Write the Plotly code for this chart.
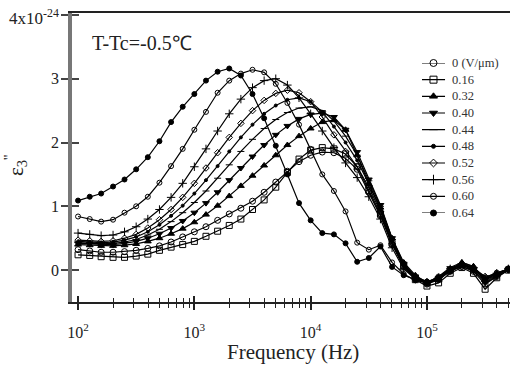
import plotly.graph_objects as go

freq = [100, 126, 158, 200, 251, 316, 398, 501, 631, 794,
        1000, 1259, 1585, 1995, 2512, 3162, 3981, 5012, 6310, 7943,
        10000, 12589, 15849, 19953, 25119, 31623, 39811, 50119, 63096, 79433,
        100000, 125893, 158489, 199526, 251189, 316228, 398107, 501187]

s000 = [0.32, 0.30, 0.28, 0.28, 0.29, 0.31, 0.34, 0.38, 0.44, 0.52,
        0.60, 0.68, 0.78, 0.88, 0.97, 1.08, 1.22, 1.38, 1.55, 1.70,
        1.80, 1.85, 1.84, 1.75, 1.58, 1.22, 0.85, 0.40, 0.06, -0.12,
        -0.22, -0.15, -0.02, 0.06, -0.02, -0.22, -0.10, 0.02]
s016 = [0.24, 0.23, 0.21, 0.20, 0.20, 0.22, 0.25, 0.31, 0.36, 0.40,
        0.45, 0.53, 0.61, 0.70, 0.80, 0.95, 1.10, 1.30, 1.53, 1.74,
        1.88, 1.92, 1.90, 1.82, 1.62, 1.25, 0.88, 0.42, 0.05, -0.15,
        -0.25, -0.20, -0.05, 0.04, -0.05, -0.30, -0.12, 0.00]
s032 = [0.40, 0.39, 0.38, 0.38, 0.39, 0.41, 0.45, 0.50, 0.57, 0.65,
        0.75, 0.87, 1.01, 1.16, 1.32, 1.48, 1.64, 1.80, 1.96, 2.10,
        2.22, 2.32, 2.35, 2.20, 1.80, 1.35, 0.98, 0.50, 0.12, -0.08,
        -0.20, -0.16, 0.00, 0.12, 0.06, -0.15, -0.08, 0.01]
s040 = [0.42, 0.41, 0.40, 0.40, 0.42, 0.45, 0.50, 0.57, 0.66, 0.77,
        0.90, 1.05, 1.22, 1.41, 1.60, 1.78, 1.96, 2.12, 2.26, 2.37,
        2.44, 2.46, 2.40, 2.20, 1.85, 1.42, 1.02, 0.50, 0.10, -0.10,
        -0.20, -0.12, 0.03, 0.08, 0.00, -0.20, -0.10, 0.00]
s044 = [0.43, 0.42, 0.41, 0.42, 0.44, 0.48, 0.55, 0.64, 0.76, 0.90,
        1.06, 1.24, 1.44, 1.65, 1.86, 2.05, 2.22, 2.36, 2.47, 2.54,
        2.56, 2.50, 2.34, 2.10, 1.80, 1.40, 1.00, 0.48, 0.08, -0.10,
        -0.18, -0.15, 0.02, 0.10, 0.03, -0.18, -0.08, 0.01]
s048 = [0.45, 0.44, 0.43, 0.44, 0.47, 0.52, 0.60, 0.71, 0.85, 1.01,
        1.20, 1.41, 1.63, 1.86, 2.08, 2.28, 2.45, 2.58, 2.67, 2.70,
        2.64, 2.48, 2.25, 2.00, 1.72, 1.35, 0.95, 0.45, 0.06, -0.12,
        -0.20, -0.10, 0.04, 0.12, 0.05, -0.14, -0.05, 0.02]
s052 = [0.47, 0.46, 0.45, 0.46, 0.50, 0.56, 0.66, 0.79, 0.95, 1.14,
        1.36, 1.60, 1.84, 2.08, 2.30, 2.50, 2.66, 2.77, 2.82, 2.78,
        2.64, 2.40, 2.12, 1.86, 1.62, 1.30, 0.92, 0.42, 0.05, -0.12,
        -0.18, -0.14, 0.00, 0.09, 0.03, -0.10, -0.06, 0.02]
s056 = [0.58, 0.56, 0.54, 0.55, 0.60, 0.68, 0.80, 0.95, 1.14, 1.36,
        1.62, 1.90, 2.18, 2.45, 2.68, 2.86, 2.97, 3.00, 2.90, 2.70,
        2.45, 2.18, 1.92, 1.68, 1.45, 1.15, 0.80, 0.35, 0.02, -0.14,
        -0.20, -0.12, 0.02, 0.10, 0.04, -0.12, -0.05, 0.02]
s060 = [0.84, 0.80, 0.76, 0.79, 0.90, 1.00, 1.15, 1.37, 1.63, 1.90,
        2.20, 2.48, 2.78, 2.97, 3.08, 3.14, 3.10, 2.92, 2.62, 2.28,
        1.90, 1.50, 1.24, 0.92, 0.43, 0.32, 0.39, 0.12, -0.06, -0.16,
        -0.20, -0.10, 0.00, 0.05, 0.00, -0.12, -0.04, 0.01]
s064 = [1.09, 1.15, 1.20, 1.31, 1.42, 1.58, 1.77, 2.02, 2.32, 2.56,
        2.76, 2.97, 3.11, 3.16, 3.05, 2.76, 2.38, 1.95, 1.50, 1.05,
        0.78, 0.58, 0.56, 0.42, 0.13, 0.19, 0.37, 0.05, -0.08, -0.15,
        -0.18, -0.12, -0.02, 0.08, 0.02, -0.15, -0.06, 0.00]

names = ["0 (V/μm)", "0.16", "0.32", "0.40", "0.44", "0.48", "0.52", "0.56", "0.60", "0.64"]
series = [s000, s016, s032, s040, s044, s048, s052, s056, s060, s064]
symbols = ["circle-open", "square-open", "triangle-up", "triangle-down", "line-ew",
           "circle", "diamond-open", "cross-thin", "circle-open", "circle"]
msizes = [6, 6, 6, 6, 5, 3, 5, 6, 5, 5]

major_x = [100, 1000, 10000, 100000]
major_x_text = ["10<sup>2</sup>", "10<sup>3</sup>", "10<sup>4</sup>", "10<sup>5</sup>"]
minor_x = [m * d for d in [100, 1000, 10000, 100000] for m in range(2, 10)]
y_ticks = [0, 1, 2, 3, 4]
y_text = ["0", "1", "2", "3", "4x10<sup>-24</sup>"]

SERIF = "Liberation Serif, Times New Roman, serif"
INK = "#222"

fig = go.Figure()
for nm, vals, sym, ms in zip(names, series, symbols, msizes):
    fig.add_trace(go.Scatter(
        x=freq, y=vals, name=nm, mode="lines+markers", showlegend=False,
        line=dict(color="black", width=1.2),
        marker=dict(symbol=sym, size=ms, color="black",
                    line=dict(color="black", width=1))))

# crossing ticks: overlay axes carry the inside half of each tick
fig.add_trace(go.Scatter(x=[], y=[], xaxis="x2", yaxis="y2", showlegend=False))

# hand-built legend in its own small axes (one row per series)
legend_annots = []
for i, (nm, sym, ms) in enumerate(zip(names, symbols, msizes)):
    fig.add_trace(go.Scatter(x=[0, 1], y=[i, i], mode="lines", xaxis="x3", yaxis="y3",
                             showlegend=False, hoverinfo="skip", cliponaxis=False,
                             line=dict(color="black", width=1.2)))
    fig.add_trace(go.Scatter(x=[0.5], y=[i], mode="markers", xaxis="x3", yaxis="y3",
                             showlegend=False, hoverinfo="skip", cliponaxis=False,
                             marker=dict(symbol=sym, size=ms + 1, color="black",
                                         line=dict(color="black", width=1))))
    legend_annots.append(dict(text=nm, x=1.2, y=i, xref="x3", yref="y3",
                              xanchor="left", yanchor="middle", showarrow=False,
                              font=dict(family=SERIF, size=12.5, color="#333")))

# y tick labels, set a little farther from the axis than Plotly's default
ytick_annots = []
for v, t in zip(y_ticks, y_text):
    ytick_annots.append(dict(text=t, x=-0.026, y=v, xref="paper", yref="y",
                             xanchor="right", yanchor="middle", showarrow=False,
                             yshift=(-2 if v == y_ticks[-1] else 0),
                             font=dict(family=SERIF, size=(17 if v == y_ticks[-1] else 16),
                                       color=INK)))

xr = [1.948, 5.714]
yr = [-0.5, 4.03]

fig.update_layout(
    width=510, height=370,
    margin=dict(l=72, r=0, t=13, b=68, autoexpand=False),
    paper_bgcolor="white", plot_bgcolor="white",
    font=dict(family=SERIF, color="black"),
    showlegend=False,
    xaxis=dict(type="log", range=xr, showgrid=False, zeroline=False, automargin=False,
               showline=True, linecolor=INK, linewidth=2, mirror=True,
               tickmode="array", tickvals=major_x, ticktext=major_x_text,
               ticks="outside", ticklen=6, tickwidth=1.5, tickcolor=INK,
               ticklabelstandoff=9,
               tickfont=dict(family=SERIF, size=16, color=INK),
               minor=dict(tickmode="array", tickvals=minor_x, ticks="outside",
                          ticklen=4, tickwidth=1.2, tickcolor=INK, showgrid=False)),
    xaxis2=dict(type="log", range=xr, overlaying="x", anchor="y", side="bottom",
                automargin=False,
                showgrid=False, zeroline=False, showline=False, showticklabels=False,
                tickmode="array", tickvals=major_x, ticks="inside", ticklen=6,
                tickwidth=1.5, tickcolor=INK,
                minor=dict(tickmode="array", tickvals=minor_x, ticks="inside",
                           ticklen=4, tickwidth=1.2, tickcolor=INK, showgrid=False)),
    yaxis=dict(range=yr, showgrid=False, zeroline=False, automargin=False,
               showline=True, linecolor="#777", linewidth=3.5,
               tickmode="array", tickvals=y_ticks, showticklabels=False,
               ticks="outside", ticklen=7, tickwidth=2, tickcolor="#444"),
    yaxis2=dict(range=yr, overlaying="y", anchor="x", side="left", automargin=False,
                showgrid=False, zeroline=False, showline=False, showticklabels=False,
                tickmode="array", tickvals=y_ticks, ticks="inside", ticklen=7,
                tickwidth=2, tickcolor="#444"),
    xaxis3=dict(domain=[0.799, 0.957], range=[0, 3], visible=False, fixedrange=True,
                anchor="y3", automargin=False),
    yaxis3=dict(domain=[0.308, 0.827], range=[9, 0], visible=False, fixedrange=True,
                anchor="x3", automargin=False),
    annotations=[
        dict(text="T-Tc=-0.5℃", x=0.042, y=0.896, xref="paper", yref="paper",
             xanchor="left", yanchor="middle", showarrow=False,
             font=dict(family=SERIF, size=20, color=INK)),
        dict(text="Frequency (Hz)", x=0.505, y=-0.172, xref="paper", yref="paper",
             xanchor="center", yanchor="middle", showarrow=False,
             font=dict(family=SERIF, size=21, color=INK)),
        dict(text="ε<sub>3</sub><sup>''</sup>", x=-0.13, y=0.474, xref="paper", yref="paper",
             xanchor="center", yanchor="middle", showarrow=False, textangle=-90,
             font=dict(family=SERIF, size=21, color=INK)),
    ] + ytick_annots + legend_annots,
)

fig.write_html("out.html")
